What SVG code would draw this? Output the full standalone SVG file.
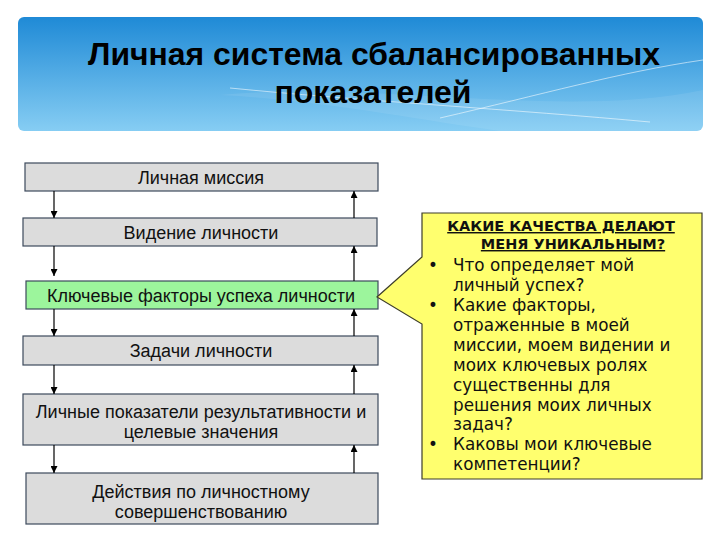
<svg xmlns="http://www.w3.org/2000/svg" width="720" height="540" viewBox="0 0 720 540">
<defs>
<linearGradient id="bg" x1="0" y1="0" x2="0" y2="1">
<stop offset="0" stop-color="#1f8ad6"/>
<stop offset="1" stop-color="#86cdf3"/>
</linearGradient>
<marker id="ah" viewBox="0 0 10 10" refX="10" refY="5" markerWidth="7" markerHeight="7" markerUnits="userSpaceOnUse" orient="auto">
<path d="M0,0 L10,5 L0,10 Z" fill="#000"/>
</marker>
<style>
.box{stroke:#3d4a5c;stroke-width:1.2}
.gray{fill:#dcdcdc}
.green{fill:#9cf59c}
.bt{font-family:"Liberation Sans",Arial,sans-serif;font-size:18px;fill:#111;text-anchor:middle}
.conn line{stroke:#000;stroke-width:1.2;marker-end:url(#ah)}
.ct{font-family:"DejaVu Sans",Verdana,sans-serif;font-size:16.8px;fill:#111}
.ch{font-family:"DejaVu Sans",Verdana,sans-serif;font-size:14.5px;font-weight:bold;fill:#111;text-decoration:underline;text-anchor:middle}
.tt{font-family:"Liberation Sans",Arial,sans-serif;font-size:31px;font-weight:bold;fill:#000;text-anchor:middle}
</style>
</defs>
<rect width="720" height="540" fill="#fff"/>
<g id="title">
<rect x="18" y="17" width="685" height="114" rx="6" fill="url(#bg)"/>
<path d="M230,88 C350,100 520,110 650,122" fill="none" stroke="#fff" stroke-opacity="0.7" stroke-width="0.8"/>
<path d="M440,118 C540,95 620,72 703,60" fill="none" stroke="#fff" stroke-opacity="0.7" stroke-width="0.8"/>
<path d="M220,95 C380,80 560,120 703,90 L703,131 L500,131 C420,120 320,100 220,95 Z" fill="#fff" fill-opacity="0.08"/>
<text class="tt" x="374" y="65" textLength="572" lengthAdjust="spacingAndGlyphs">Личная система сбалансированных</text>
<text class="tt" x="373" y="103" textLength="197" lengthAdjust="spacingAndGlyphs">показателей</text>
</g>
<g id="n1"><rect class="box gray" x="25" y="163" width="353" height="28"/><text class="bt" x="201" y="183.5">Личная миссия</text></g>
<g id="n2"><rect class="box gray" x="23" y="218" width="354" height="28"/><text class="bt" x="201" y="238.5">Видение личности</text></g>
<g id="n3"><rect class="box green" x="26" y="281" width="352" height="28"/><text class="bt" x="201" y="301.5">Ключевые факторы успеха личности</text></g>
<g id="n4"><rect class="box gray" x="23" y="336" width="355" height="29"/><text class="bt" x="201" y="357">Задачи личности</text></g>
<g id="n5"><rect class="box gray" x="23" y="394" width="355" height="51"/><text class="bt" x="201" y="418">Личные показатели результативности и</text><text class="bt" x="201" y="438">целевые значения</text></g>
<g id="n6"><rect class="box gray" x="26" y="473" width="352" height="51"/><text class="bt" x="201" y="498">Действия по личностному</text><text class="bt" x="201" y="518">совершенствованию</text></g>
<g id="callout">
<path d="M422,213 H702 V479 H422 V324 L377,297 L422,257 Z" fill="#ffff6e" stroke="#3d3d2a" stroke-width="1.2"/>
<text class="ch" x="561" y="231">КАКИЕ КАЧЕСТВА ДЕЛАЮТ</text>
<text class="ch" x="573" y="249">МЕНЯ УНИКАЛЬНЫМ?</text>
<g class="ct">
<text x="428" y="271">•</text><text x="453" y="271">Что определяет мой</text>
<text x="453" y="291">личный успех?</text>
<text x="428" y="311">•</text><text x="453" y="311">Какие факторы,</text>
<text x="453" y="331">отраженные в моей</text>
<text x="453" y="351">миссии, моем видении и</text>
<text x="453" y="371">моих ключевых ролях</text>
<text x="453" y="391">существенны для</text>
<text x="453" y="411">решения моих личных</text>
<text x="453" y="430">задач?</text>
<text x="428" y="450">•</text><text x="453" y="450">Каковы мои ключевые</text>
<text x="453" y="470">компетенции?</text>
</g>
</g>
<g id="connectors" class="conn">
<line x1="54" y1="191" x2="54" y2="218"/>
<line x1="54" y1="246" x2="54" y2="276"/>
<line x1="54" y1="309" x2="54" y2="336"/>
<line x1="54" y1="365" x2="54" y2="394"/>
<line x1="54" y1="445" x2="54" y2="473"/>
<line x1="354" y1="218" x2="354" y2="191"/>
<line x1="354" y1="281" x2="354" y2="246"/>
<line x1="354" y1="336" x2="354" y2="309"/>
<line x1="354" y1="394" x2="354" y2="365"/>
<line x1="354" y1="473" x2="354" y2="445"/>
</g>
</svg>
